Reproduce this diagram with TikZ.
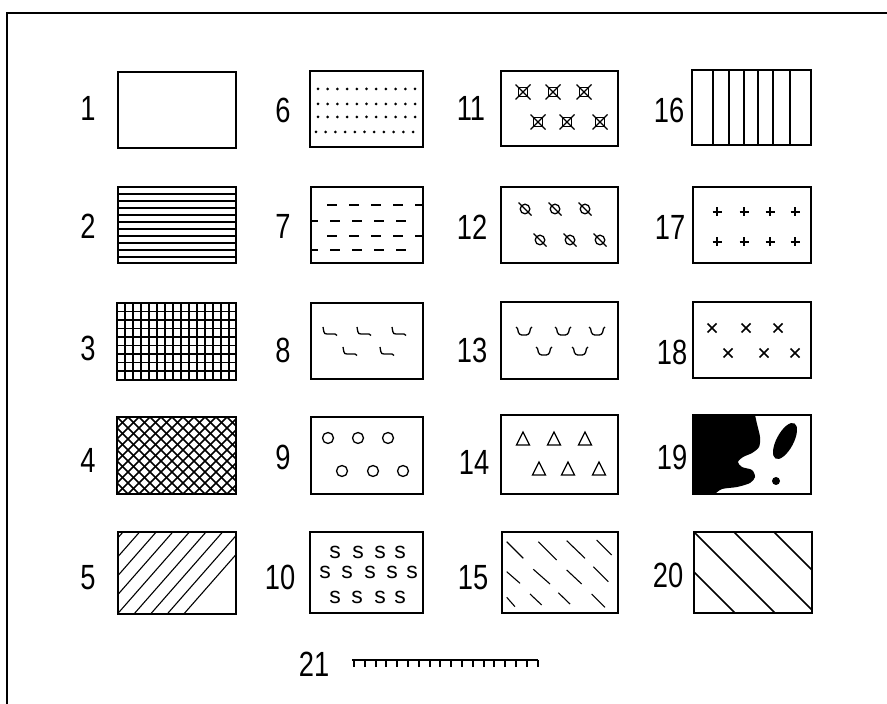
\documentclass[tikz,border=0pt]{standalone}
\usepackage{fontspec}
\setmainfont{Liberation Sans}
\newfontfamily\labfont[FakeStretch=0.78]{Liberation Sans}
\begin{document}
\begin{tikzpicture}[x=0.5pt,y=-0.5pt,
  box/.style={line width=1.3pt},
  hatch/.style={line width=0.55pt},
  sym/.style={line width=0.65pt},
  lbl/.style={font=\labfont\fontsize{17.5}{18}\selectfont, inner sep=0pt},
  sch/.style={font=\fontsize{11.5}{12}\selectfont, inner sep=0pt},
  hookmark/.pic={\draw[sym,line join=round] (0,0) -- (0.8,4.5) .. controls (1.2,6.5) and (2,7) .. (4,7) -- (12,7) -- (14,8.5);},
  cupmark/.pic={\draw[sym] (0,0) -- (1.5,1.5) .. controls (2.5,8) and (4,8) .. (8,8) .. controls (12,8) and (13.5,8) .. (14.5,1.5) -- (16,0);},
  xsq/.pic={\draw[sym] (-4.5,-4.5) rectangle (4.5,4.5); \draw[sym] (-7.5,-7.5) -- (7.5,7.5) (-7.5,7.5) -- (7.5,-7.5);},
  oslash/.pic={\draw[sym] (0,0) circle (4.8); \draw[sym] (-6.5,-6.5) -- (6.5,6.5);},
  tri/.pic={\draw[sym] (-6.5,6) -- (0,-7) -- (6.5,6) -- cycle;},
  plusmark/.pic={\draw[line width=0.85pt] (-4.5,0) -- (4.5,0) (0,-4.5) -- (0,4.5);},
  xmark/.pic={\draw[line width=0.85pt] (-4.5,-4.5) -- (4.5,4.5) (-4.5,4.5) -- (4.5,-4.5);}
]
\useasboundingbox (0,0) rectangle (887,704);
% outer frame
\draw[line width=1pt] (7,704) -- (7,13) -- (887,13);

% ---------- labels ----------
\foreach \t/\x/\y in {1/88/108,2/88/226,3/88/348,4/88/460,5/88/578,
                      6/283/110,7/283/226,8/283/350,9/283/457,10/280/577,
                      11/471/108,12/472/227,13/472/350,14/474/462,15/473/578,
                      16/669/110,17/670/227,18/672/352,19/672/457,20/668/575,
                      21/314/664}
  \node[lbl] (lab\t) at (\x,\y) {\t};

% ---------- box 1 ----------
\draw[box] (118,72) rectangle (236,148);

% ---------- box 2 : horizontal lines ----------
\foreach \y in {194,201,...,258} \draw[hatch] (118,\y) -- (236,\y);
\draw[box] (118,187) rectangle (236,263);

% ---------- box 3 : grid ----------
\foreach \k in {1,...,14} \draw[hatch] (117+8*\k,303) -- (117+8*\k,380);
\foreach \k in {1,...,8} \draw[hatch] (117,303+8.5*\k) -- (236,303+8.5*\k);
\draw[box] (117,303) rectangle (236,380);

% ---------- box 4 : cross hatch ----------
\begin{scope}
\clip (117,417) rectangle (236,494);
\foreach \d in {-88,-77,...,120} {
  \draw[hatch,line width=0.8pt] (117+\d,417) -- ++(77,77);
  \draw[hatch,line width=0.8pt] (117+\d,494) -- ++(77,-77);
}
\end{scope}
\draw[box] (117,417) rectangle (236,494);

% ---------- box 5 : / hatch ----------
\begin{scope}
\clip (118,532) rectangle (236,614);
\foreach \k in {-6,...,8} \draw[hatch] (123+16.6*\k,532) -- ++(-72,82);
\end{scope}
\draw[box] (118,532) rectangle (236,614);

% ---------- box 6 : dots ----------
\foreach \y/\o in {89/0,104/0,117/0,132/-2}
  \foreach \k in {0,...,10} \fill (318+\o+9.7*\k,\y) circle (1.5);
\draw[box] (310,71) rectangle (423,147);

% ---------- box 7 : dashes ----------
\begin{scope}
\clip (311,187) rectangle (423,263);
\foreach \y/\o in {205/327,221/308,236/327,250/308}
  \foreach \k in {0,...,4} \draw[hatch] (\o+22*\k,\y) -- ++(10,0);
\end{scope}
\draw[box] (311,187) rectangle (423,263);

% ---------- box 8 : hooks ----------
\foreach \x/\y in {323/327,357/327,392/327,343/347,380/347}
  \pic at (\x,\y) {hookmark};
\draw[box] (311,303) rectangle (423,379);

% ---------- box 9 : circles ----------
\foreach \x/\y in {328/438,358/438,388/438,342/471,373/471,403/471}
  \draw[sym] (\x,\y) circle (5.5);
\draw[box] (311,417) rectangle (423,494);

% ---------- box 10 : s ----------
\foreach \x/\y [count=\i] in {335/552,358/552,380/552,400/552,
                              325/572,347/572,370/572,392/572,412/572,
                              335/597,357/597,380/597,400/597}
  \node[sch] (s\i) at (\x,\y) {s};
\draw[box] (310,532) rectangle (423,613);

% ---------- box 11 ----------
\foreach \x/\y in {523/92,553/92,584/92,538/122,567/122,600/122}
  \pic at (\x,\y) {xsq};
\draw[box] (501,71) rectangle (618,146);

% ---------- box 12 ----------
\foreach \x/\y in {525/209,555/209,585/209,540/240,570/240,600/240}
  \pic at (\x,\y) {oslash};
\draw[box] (501,187) rectangle (618,263);

% ---------- box 13 : cups ----------
\foreach \x/\y in {516/327,555/327,589/327,536/347,572/347}
  \pic at (\x,\y) {cupmark};
\draw[box] (501,302) rectangle (618,379);

% ---------- box 14 : triangles ----------
\foreach \x/\y in {523/439,554/439,585/439,539/469,568/469,599/469}
  \pic at (\x,\y) {tri};
\draw[box] (501,415) rectangle (618,494);

% ---------- box 15 : short dashes ----------
\foreach \a/\b/\c/\d in {506.7/541.7/523.3/558.3, 538.3/541.7/556.7/560, 566.7/540.7/585/558.3, 596.7/540/611.7/555,
                         506.7/571.7/520/583.3, 533.3/569.3/550/584, 566.7/570/581.7/584, 593.3/566.7/608.3/581.7,
                         506.7/597.3/515/606.7, 530/594/541.7/605, 558.3/592.7/570/604, 591.7/594/605/607.3}
  \draw[hatch] (\a,\b) -- (\c,\d);
\draw[box] (502,532) rectangle (618,613);

% ---------- box 16 : vertical lines ----------
\foreach \x in {713,729,744,758,773,790} \draw[hatch,line width=0.8pt] (\x,70) -- (\x,145);
\draw[box] (692,70) rectangle (811,145);

% ---------- box 17 : plus ----------
\foreach \x/\y in {717/212,744/212,770/212,795/212,717/242,744/242,770/242,795/242}
  \pic at (\x,\y) {plusmark};
\draw[box] (693,187) rectangle (811,263);

% ---------- box 18 : x ----------
\foreach \x/\y in {712/328,746/328,778/328,728/353,764/353,795/353}
  \pic at (\x,\y) {xmark};
\draw[box] (693,302) rectangle (811,378);

% ---------- box 19 : black blob ----------
\fill (693,415) -- plot[smooth] coordinates {(755,415) (757,424) (760,437) (759,447) (752,453) (743,457) (738,462) (742,467) (752,470) (755,477) (750,483) (737,487) (722,489) (715,494)} -- (693,494) -- cycle;
\fill[rotate around={-28:(785,441)}] (785,441) ellipse (8.5 and 20);
\fill (776,481) circle (4);
\draw[box] (693,415) rectangle (811,494);

% ---------- box 20 : wide \ hatch ----------
\begin{scope}
\clip (694,532) rectangle (812,613);
\foreach \c in {654,694,734,774} \draw[hatch,line width=0.8pt] (\c,532) -- ++(81,81);
\end{scope}
\draw[box] (694,532) rectangle (812,613);

% ---------- 21 : scale bar ----------
\coordinate (barA) at (352,660);
\coordinate (barB) at (538,660);
\draw[line width=1.3pt] (barA) -- (barB);
\foreach \k in {0,...,17} \draw[line width=1pt] (354+10.8*\k,660) -- ++(0,7);
\end{tikzpicture}
\end{document}
